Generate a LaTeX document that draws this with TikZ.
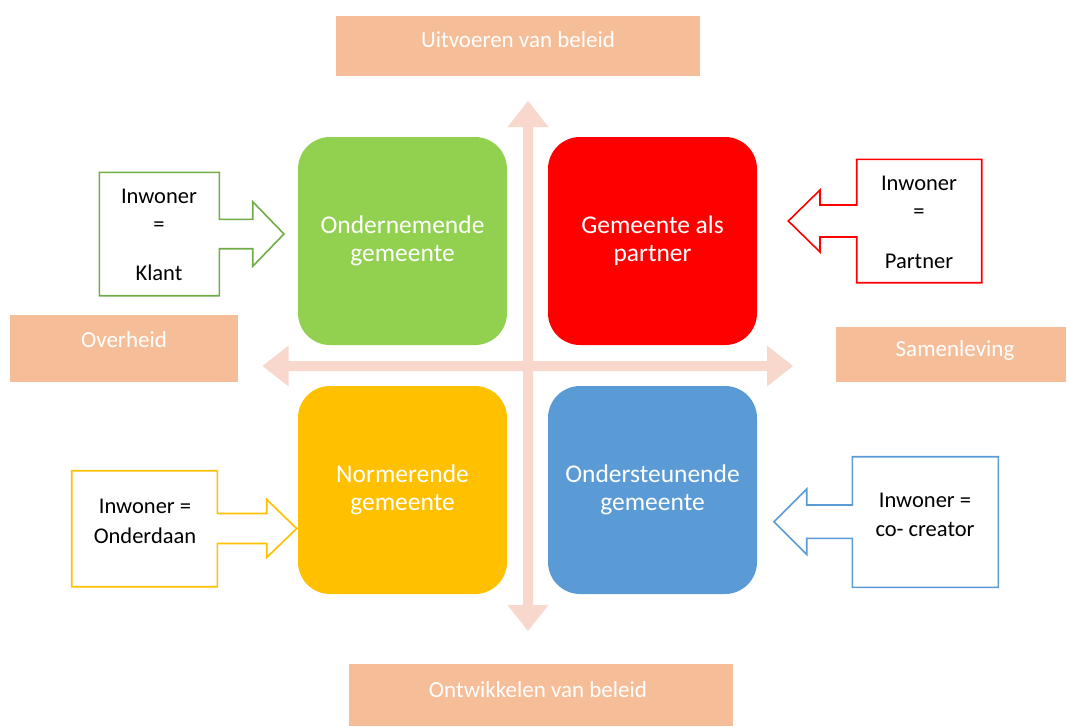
\documentclass[tikz,border=0pt]{standalone}
\usepackage{fontspec}
\setmainfont{Carlito}
\definecolor{axis}{HTML}{F8D8CC}
\definecolor{labfill}{HTML}{F5BE98}
\definecolor{cgreen}{HTML}{92D050}
\definecolor{lgreen}{HTML}{70AD47}
\definecolor{cred}{HTML}{FF0000}
\definecolor{cyellow}{HTML}{FFC000}
\definecolor{cblue}{HTML}{5B9BD5}
\begin{document}
\begin{tikzpicture}[x=1pt,y=-1pt,
  quad/.style={rounded corners=32pt, minimum width=209pt, minimum height=208pt,
    text=white, align=center, inner sep=0pt, font=\fontsize{25.5}{28}\selectfont},
  labbox/.style={fill=labfill, draw=none},
  labtext/.style={text=white, inner sep=0pt, font=\fontsize{23}{27}\selectfont},
  ctext/.style={text=black, inner sep=0pt, font=\fontsize{22.5}{26}\selectfont},
  callout/.style={line width=1.6pt, fill=white, line join=miter}
]
\useasboundingbox (0,0) rectangle (1067,726);

% axis cross
\fill[axis] (523,127) -- (507.5,127) -- (528,101) -- (548.5,127) -- (533,127)
  -- (533,605) -- (548.5,605) -- (528,631) -- (507.5,605) -- (523,605) -- cycle;
\fill[axis] (288.6,361) -- (288.6,345.5) -- (262.5,366) -- (288.6,386.5) -- (288.6,371)
  -- (767,371) -- (767,386.5) -- (793,366) -- (767,345.5) -- (767,361) -- cycle;

% label boxes
\fill[labbox] (336,16) rectangle (700,76);
\node[labtext] (top) at (518,40) {Uitvoeren van beleid};
\fill[labbox] (10,315) rectangle (238,382);
\node[labtext] (left) at (124,340) {Overheid};
\fill[labbox] (836,327) rectangle (1066,382);
\node[labtext] (right) at (955,350) {Samenleving};
\fill[labbox] (349,664) rectangle (733,726);
\node[labtext] (bottom) at (538,690) {Ontwikkelen van beleid};

% quadrants
\node[quad, fill=cgreen] (q1) at (402.5,241) {Ondernemende\\gemeente};
\node[quad, fill=cred] (q2) at (652.5,241) {Gemeente als\\partner};
\node[quad, fill=cyellow] (q3) at (402.5,490) {Normerende\\gemeente};
\node[quad, fill=cblue] (q4) at (652.5,490) {Ondersteunende\\gemeente};

% callouts
\draw[callout, draw=lgreen] (99.3,172.3) -- (219.3,172.3) -- (219.3,219.3) -- (252.7,219.3)
  -- (252.7,201.7) -- (284,234) -- (252.7,266.3) -- (252.7,248.7) -- (219.3,248.7)
  -- (219.3,295.7) -- (99.3,295.7) -- cycle;
\node[ctext] (g1) at (159,196) {Inwoner};
\node[ctext] (g2) at (159,226.5) {=};
\node[ctext] (g3) at (159,273) {Klant};

\draw[callout, draw=cred] (981.7,159.3) -- (856.7,159.3) -- (856.7,205) -- (820,205)
  -- (820,190) -- (788.3,221) -- (820,252) -- (820,237) -- (856.7,237)
  -- (856.7,282.7) -- (981.7,282.7) -- cycle;
\node[ctext] (r1) at (919,183) {Inwoner};
\node[ctext] (r2) at (919,214) {=};
\node[ctext] (r3) at (919,261) {Partner};

\draw[callout, draw=cyellow] (71.7,470.7) -- (217.3,470.7) -- (217.3,513.5) -- (266.7,513.5)
  -- (266.7,499.5) -- (296.7,528.5) -- (266.7,557.5) -- (266.7,543.5) -- (217.3,543.5)
  -- (217.3,586.7) -- (71.7,586.7) -- cycle;
\node[ctext] (y1) at (145,506) {Inwoner =};
\node[ctext] (y2) at (145,536) {Onderdaan};

\draw[callout, draw=cblue] (998.3,456.7) -- (852.3,456.7) -- (852.3,505) -- (806.7,505)
  -- (806.7,489) -- (774,521.7) -- (806.7,554.4) -- (806.7,538.3) -- (852.3,538.3)
  -- (852.3,587.3) -- (998.3,587.3) -- cycle;
\node[ctext] (b1) at (925,500) {Inwoner =};
\node[ctext] (b2) at (925,529) {co- creator};
\end{tikzpicture}
\end{document}
